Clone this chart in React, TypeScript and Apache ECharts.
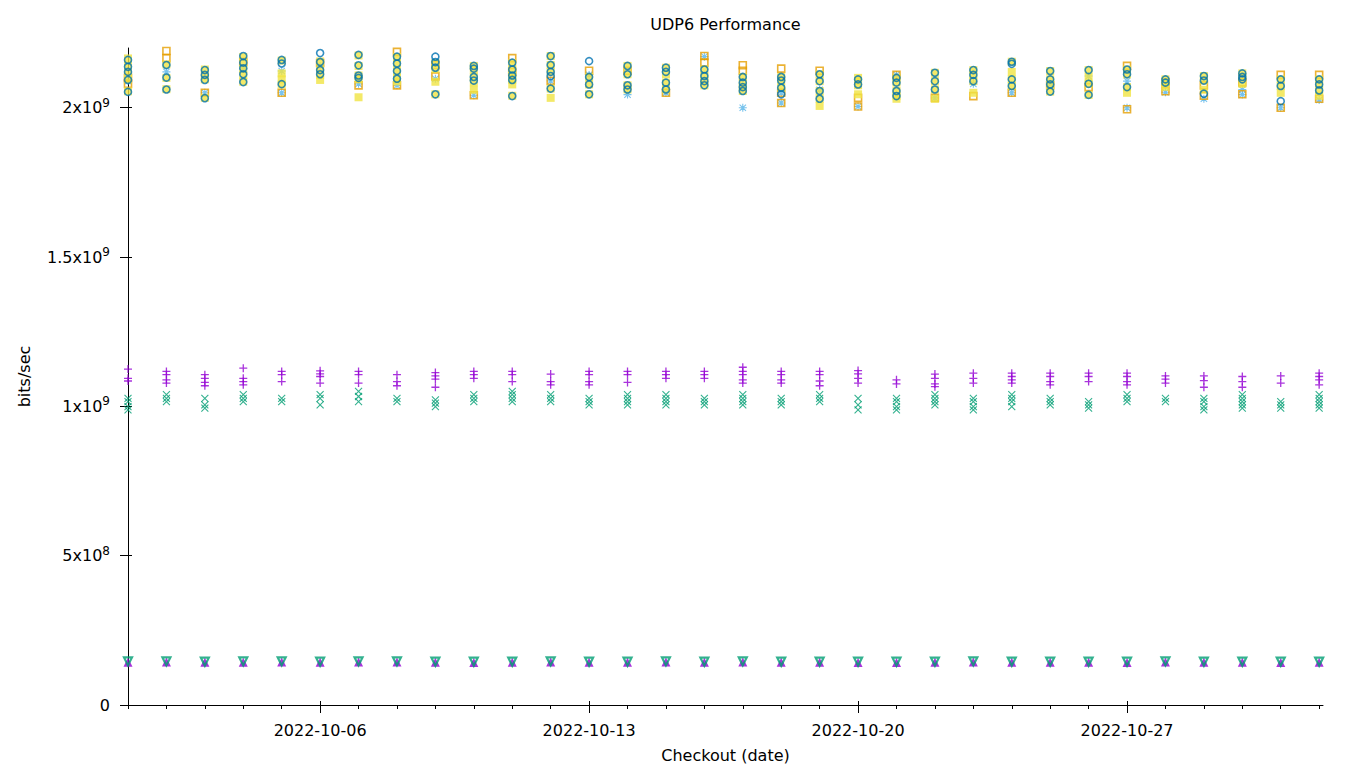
import React, { useEffect, useRef } from "react";
import * as echarts from "echarts";

// Checkout dates (x = index in this list)
const dates = [
  "2022-10-01","2022-10-02","2022-10-03","2022-10-04","2022-10-05","2022-10-06","2022-10-07","2022-10-08",
  "2022-10-09","2022-10-10","2022-10-11","2022-10-12","2022-10-13","2022-10-14","2022-10-15","2022-10-16",
  "2022-10-17","2022-10-18","2022-10-19","2022-10-20","2022-10-21","2022-10-22","2022-10-23","2022-10-24",
  "2022-10-25","2022-10-26","2022-10-27","2022-10-28","2022-10-29","2022-10-30","2022-10-31","2022-11-01",
];
const xLabelDates = ["2022-10-06", "2022-10-13", "2022-10-20", "2022-10-27"];
const yTicks = [0, 5e8, 1e9, 1.5e9, 2e9];

// Values in units of 1e9 bits/sec, one list of runs per day
const purplePlus = [
  [1.125,1.094,1.085],[1.117,1.106,1.089,1.078],[1.106,1.094,1.080,1.069],[1.128,1.094,1.083,1.072],
  [1.117,1.106,1.083],[1.119,1.109,1.100,1.078],[1.117,1.106,1.078],[1.106,1.083,1.069],
  [1.113,1.102,1.091,1.064],[1.117,1.106,1.094],[1.117,1.106,1.083],[1.108,1.083,1.072],
  [1.117,1.106,1.083,1.072],[1.117,1.106,1.080],[1.117,1.106,1.094],[1.117,1.106,1.094],
  [1.131,1.117,1.106,1.089,1.078],[1.117,1.106,1.089,1.078],[1.117,1.106,1.085,1.069],[1.120,1.109,1.094,1.078],
  [1.089,1.075],[1.108,1.094,1.075,1.066],[1.111,1.094,1.078],[1.111,1.100,1.089,1.078],
  [1.111,1.100,1.083,1.072],[1.111,1.100,1.083],[1.111,1.100,1.083,1.072],[1.102,1.091,1.078],
  [1.102,1.086,1.064],[1.100,1.083,1.064],[1.102,1.078],[1.111,1.100,1.089,1.072],
];
const greenX = [
  [1.027,1.016,0.999,0.988],[1.039,1.027,1.016],[1.027,1.005,0.994],[1.039,1.027,1.016],
  [1.027,1.016],[1.039,1.027,1.005],[1.050,1.033,1.016],[1.027,1.016],
  [1.022,1.011,0.999],[1.039,1.027,1.016],[1.050,1.039,1.027,1.016],[1.039,1.027,1.016],
  [1.027,1.016,1.005],[1.039,1.027,1.016,1.005],[1.039,1.027,1.016,1.005],[1.027,1.016,1.005],
  [1.039,1.027,1.016,1.005],[1.027,1.016,1.005],[1.039,1.027,1.016],[1.027,1.005,0.988],
  [1.027,1.016,0.999,0.988],[1.039,1.027,1.016,1.005],[1.027,1.016,0.999,0.988],[1.039,1.027,1.016,0.999],
  [1.027,1.016,1.005],[1.016,1.005,0.994],[1.039,1.027,1.016],[1.027,1.016],
  [1.027,1.016,0.999,0.988],[1.039,1.027,1.016,1.005,0.994],[1.016,1.005,0.994],[1.039,1.027,1.016,1.005,0.994],
];
const lightBlueStar = [
  [2.090],[2.120],[2.050],[2.130],[2.123,2.050],[2.140],[2.080],[2.075],
  [2.097],[2.042],[2.100],[2.090],[2.110],[2.044],[2.050],[2.171],
  [2.000],[2.016,2.050],[2.060],[2.004],[2.110],[2.033],[2.080],[2.050],
  [2.080],[2.106],[2.089,2.000],[2.052],[2.030],[2.061,2.044],[2.000],[2.026],
];
const orangeSquare = [
  [2.100,2.080],[2.190,2.166],[2.050],[2.154],[2.050],[2.150],[2.075],[2.187,2.075],
  [2.143,2.105],[2.042],[2.166,2.120],[2.090],[2.124],[2.124],[2.050],[2.173,2.151],
  [2.142,2.124],[2.131,2.050,2.016],[2.124],[2.033,2.004],[2.110],[2.033],[2.039],[2.050],
  [2.075],[2.069],[2.140,1.995],[2.085,2.055],[2.075,2.040],[2.085,2.045],[2.110,2.000],[2.110,2.030],
];
const yellowSquare = [
  [2.165,2.140,2.118,2.095,2.055],[2.145,2.100,2.062],[2.128,2.108,2.095,2.033],[2.170,2.150,2.130,2.110,2.087],
  [2.158,2.115,2.095,2.078],[2.155,2.128,2.110,2.093],[2.175,2.140,2.108,2.095,2.035],[2.170,2.148,2.122,2.098,2.088],
  [2.150,2.130,2.087,2.045],[2.140,2.128,2.103,2.085,2.060],[2.150,2.128,2.108,2.093,2.078,2.040],[2.173,2.143,2.120,2.064,2.033],
  [2.103,2.078,2.045],[2.140,2.112,2.075,2.061],[2.134,2.112,2.084,2.061],[2.128,2.106,2.089,2.075],
  [2.103,2.084,2.069,2.056],[2.103,2.091,2.067],[2.112,2.089,2.056,2.030,2.006],[2.100,2.090,2.075,2.045],
  [2.100,2.084,2.056,2.039,2.030],[2.117,2.089,2.061,2.030],[2.126,2.110,2.089,2.050],[2.154,2.120,2.095,2.073],
  [2.123,2.095,2.078,2.054],[2.126,2.100,2.080,2.043],[2.128,2.112,2.069,2.050],[2.095,2.084,2.070],
  [2.106,2.091,2.060],[2.115,2.103,2.080],[2.095,2.073,2.050],[2.095,2.078,2.058,2.040],
];
const blueCircle = [
  [2.160,2.137,2.120,2.093,2.053],[2.143,2.101,2.061],[2.126,2.110,2.093,2.032],[2.173,2.151,2.132,2.112,2.086],
  [2.160,2.148,2.079],[2.183,2.153,2.126,2.112],[2.177,2.142,2.108,2.100],[2.171,2.148,2.123,2.097],
  [2.171,2.153,2.134,2.045],[2.140,2.131,2.103,2.091],[2.151,2.128,2.108,2.093,2.039],[2.173,2.143,2.120,2.106,2.064],
  [2.156,2.103,2.078,2.045],[2.140,2.112,2.075,2.061],[2.134,2.120,2.084,2.061],[2.128,2.106,2.089,2.075],
  [2.103,2.084,2.069,2.056],[2.103,2.091,2.067,2.045],[2.112,2.089,2.056,2.030],[2.095,2.078],
  [2.100,2.084,2.056,2.039],[2.117,2.089,2.061],[2.126,2.110,2.089],[2.154,2.147,2.095,2.073],
  [2.123,2.095,2.078,2.054],[2.126,2.080,2.043],[2.128,2.112,2.069],[2.095,2.084],
  [2.106,2.091,2.047],[2.115,2.103,2.095],[2.095,2.073,2.022],[2.095,2.078,2.058],
];
const purpleTriangle = [
  [0.143],[0.144],[0.143],[0.143],[0.144],[0.143],[0.144],[0.144],
  [0.143],[0.142],[0.143],[0.144],[0.143],[0.143],[0.144],[0.143],
  [0.144],[0.143],[0.143],[0.142],[0.142],[0.143],[0.144],[0.143],
  [0.143],[0.143],[0.142],[0.144],[0.143],[0.143],[0.142],[0.143],
];
const greenTriangle = [
  [0.146],[0.146],[0.145],[0.146],[0.146],[0.145],[0.146],[0.146],
  [0.145],[0.145],[0.145],[0.146],[0.145],[0.145],[0.146],[0.145],
  [0.146],[0.145],[0.145],[0.145],[0.145],[0.145],[0.146],[0.145],
  [0.145],[0.145],[0.145],[0.146],[0.145],[0.145],[0.145],[0.145],
];

const FONT = "DejaVu Sans";

function toPoints(perDay: number[][]) {
  const out: number[][] = [];
  perDay.forEach((runs, i) => runs.forEach((v) => out.push([i, v * 1e9])));
  return out;
}

function fmtY(v: number) {
  if (v === 0) return "{b|0}";
  const e = Math.floor(Math.log10(v) + 1e-9);
  const m = +(v / Math.pow(10, e)).toFixed(2);
  return `{b|${m}x10}{s|${e}}`;
}

export default function App() {
  const ref = useRef<HTMLDivElement>(null);
  useEffect(() => {
    const chart = echarts.init(ref.current!, undefined, { renderer: "svg" });
    const allDays = dates.map((_, i) => i);
    const majorDays = xLabelDates.map((d) => dates.indexOf(d));
    const xMax = 31.1;
    const lineStyle = { color: "#000", width: 1 };
    const baseX = {
      type: "value" as const,
      min: 0,
      max: xMax,
      splitLine: { show: false },
      axisLine: { show: false },
      axisLabel: { show: false },
    };
    const baseY = {
      type: "value" as const,
      min: 0,
      max: 2.2e9,
      splitLine: { show: false },
      axisLine: { show: false },
      axisLabel: { show: false },
    };
    const stroke = (color: string, w = 1) => ({ color: "rgba(0,0,0,0)", borderColor: color, borderWidth: w });
    const series: any[] = [
      { data: toPoints(purplePlus), symbol: "path://M5,0L5,10M0,5L10,5", symbolSize: 8, itemStyle: stroke("#9400d3", 1.3) },
      { data: toPoints(greenX), symbol: "path://M0,0L10,10M10,0L0,10", symbolSize: 7, itemStyle: stroke("#009e73", 1.1) },
      { data: toPoints(lightBlueStar), symbol: "path://M5,0L5,10M0,5L10,5M1,1L9,9M9,1L1,9", symbolSize: 8, itemStyle: stroke("#56b4e9", 1.1) },
      { data: toPoints(orangeSquare), symbol: "rect", symbolSize: 7, itemStyle: stroke("#e69f00", 1.6) },
      { data: toPoints(yellowSquare), symbol: "rect", symbolSize: 8, itemStyle: { color: "#f0e442" } },
      { data: toPoints(blueCircle), symbol: "circle", symbolSize: 7, itemStyle: stroke("#0072b2", 1.6) },
      { data: toPoints(purpleTriangle), symbol: "triangle", symbolSize: 9, itemStyle: { color: "#9400d3" } },
      { data: toPoints(greenTriangle), symbol: "triangle", symbolRotate: 180, symbolSize: 8, itemStyle: stroke("#009e73", 2.2) },
    ].map((s) => ({ type: "scatter", clip: false, xAxisIndex: 0, yAxisIndex: 0, emphasis: { disabled: true }, ...s }));

    chart.setOption({
      animation: false,
      backgroundColor: "#fff",
      textStyle: { fontFamily: FONT },
      grid: { left: 128, right: 37, top: 48, bottom: 63 },
      xAxis: [
        {
          ...baseX,
          position: "bottom",
          axisLine: { show: true, onZero: false, lineStyle },
          axisTick: { show: true, length: 4, lineStyle, customValues: allDays },
          axisLabel: {
            show: true,
            margin: 17,
            color: "#000",
            fontSize: 16,
            fontFamily: FONT,
            customValues: majorDays,
            formatter: (v: number) => dates[Math.round(v)] ?? "",
          },
          name: "Checkout (date)",
          nameLocation: "middle",
          nameGap: 42,
          nameTextStyle: { color: "#000", fontSize: 16, fontFamily: FONT },
        },
        {
          ...baseX,
          position: "bottom",
          axisTick: { show: true, length: 8, lineStyle, customValues: majorDays },
        },
        {
          ...baseX,
          position: "top",
          axisTick: { show: true, inside: true, length: 4, lineStyle, customValues: allDays },
          name: "UDP6 Performance",
          nameLocation: "middle",
          nameGap: 16,
          nameTextStyle: { color: "#000", fontSize: 16, fontFamily: FONT },
        },
        {
          ...baseX,
          position: "top",
          axisTick: { show: true, length: 4, lineStyle, customValues: majorDays },
        },
      ],
      yAxis: [
        {
          ...baseY,
          position: "left",
          axisLine: { show: true, onZero: false, lineStyle },
          axisTick: { show: true, length: 8, lineStyle, customValues: yTicks },
          axisLabel: {
            show: true,
            margin: 18,
            color: "#000",
            customValues: yTicks,
            formatter: fmtY,
            rich: {
              b: { fontSize: 16, fontFamily: FONT, color: "#000" },
              s: { fontSize: 12, fontFamily: FONT, color: "#000", padding: [0, 0, 10, 0] },
            },
          },
          name: "bits/sec",
          nameLocation: "middle",
          nameRotate: 90,
          nameGap: 96,
          nameTextStyle: { color: "#000", fontSize: 16, fontFamily: FONT },
        },
        {
          ...baseY,
          position: "right",
          axisTick: { show: true, inside: true, length: 4, lineStyle, customValues: yTicks },
        },
        {
          ...baseY,
          position: "right",
          axisTick: { show: true, length: 4, lineStyle, customValues: yTicks },
        },
      ],
      series,
    });
    return () => chart.dispose();
  }, []);
  return <div ref={ref} style={{ width: 1360, height: 768, position: "absolute", left: 0, top: 0 }} />;
}
